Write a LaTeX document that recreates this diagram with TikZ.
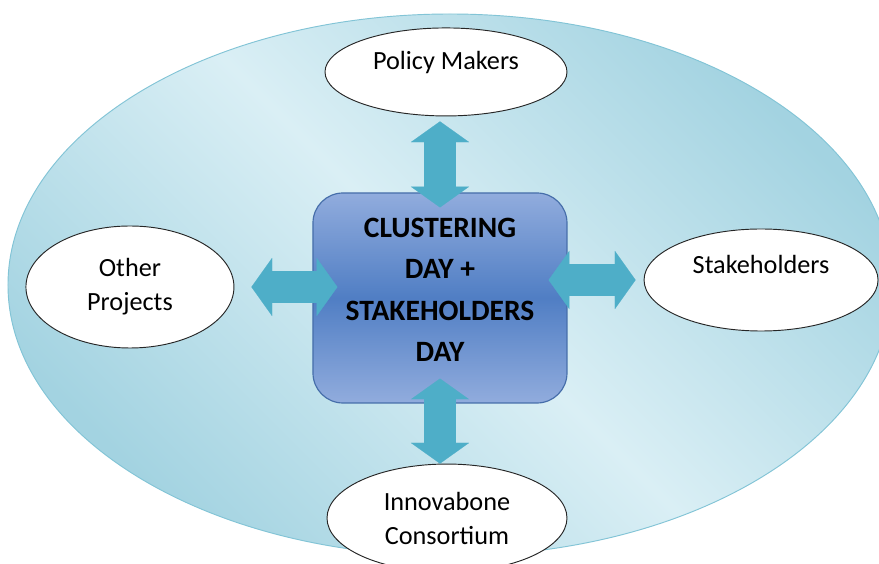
\documentclass[tikz,border=0pt]{standalone}
\usepackage{fontspec}
\setmainfont{Carlito}
\usetikzlibrary{positioning,arrows.meta,shapes.geometric}
\definecolor{fieldlight}{RGB}{218,239,245}
\definecolor{fielddark}{RGB}{163,211,225}
\definecolor{fieldline}{RGB}{130,196,214}
\definecolor{hubtop}{RGB}{145,172,221}
\definecolor{hubmid}{RGB}{80,126,196}
\definecolor{hubline}{RGB}{70,110,170}
\definecolor{linkcol}{RGB}{78,174,200}
\tikzset{
bubble/.style={ellipse, draw=black!85, line width=0.8pt, fill=white, inner sep=0pt, align=center,
  font=\fontsize{22.4}{29}\selectfont}, % the white ellipses round the middle
hub/.style={rectangle, rounded corners=0.9cm, draw=hubline, line width=1pt,
  top color=hubtop, bottom color=hubtop, middle color=hubmid,
  minimum width=7.62cm, minimum height=6.3cm, align=center, text depth=4.8mm,
  font=\fontsize{25.2}{35.3}\selectfont\bfseries}, % the blue box in the middle
link/.style={draw=linkcol, line width=0.95cm,
  {Triangle[length=0.62cm,width=1.74cm,line width=0.1pt]}-{Triangle[length=0.62cm,width=1.74cm,line width=0.1pt]}}, % fat double arrows
}
\begin{document}
\begin{tikzpicture}
\path[use as bounding box, fill=white] (-13.2,-7.98) rectangle (13.17,8.94);
\shadedraw[top color=fielddark, bottom color=fielddark, middle color=fieldlight, shading angle=-45,
  draw=fieldline, line width=0.8pt] (0.3,0.39) ellipse [x radius=13.26cm, y radius=8.13cm];

\node[hub] (core) at (0,0) {CLUSTERING\\DAY +\\STAKEHOLDERS\\DAY};
\node[bubble, minimum width=7.26cm, minimum height=2.64cm, text height=5.5mm, text depth=7mm,
  above=2.28cm of core, xshift=0.18cm] (pm) {Policy Makers};
\node[bubble, minimum width=6.24cm, minimum height=3.66cm, left=2.34cm of core, yshift=0.33cm] (op) {Other\\Projects};
\node[bubble, minimum width=7.02cm, minimum height=3.06cm, text height=5.5mm, text depth=9.4mm,
  right=2.28cm of core, yshift=0.54cm] (sh) {Stakeholders};
\node[bubble, minimum width=7.2cm, minimum height=3.24cm, below=1.8cm of core, xshift=0.21cm] (ic) {Innovabone\\Consortium};

\draw[link, shorten <=0.15cm, shorten >=-0.45cm] (core.north |- pm.south) -- (core.north);
\draw[link, shorten <=-0.75cm] (core.south) -- (core.south |- ic.north);
\draw[link, shorten <=0.51cm, shorten >=-0.75cm] (op.east) -- (core.west |- op.east);
\draw[link, shorten <=-0.57cm, shorten >=0.24cm] (core.east |- sh.west) -- (sh.west);

\end{tikzpicture}
\end{document}
